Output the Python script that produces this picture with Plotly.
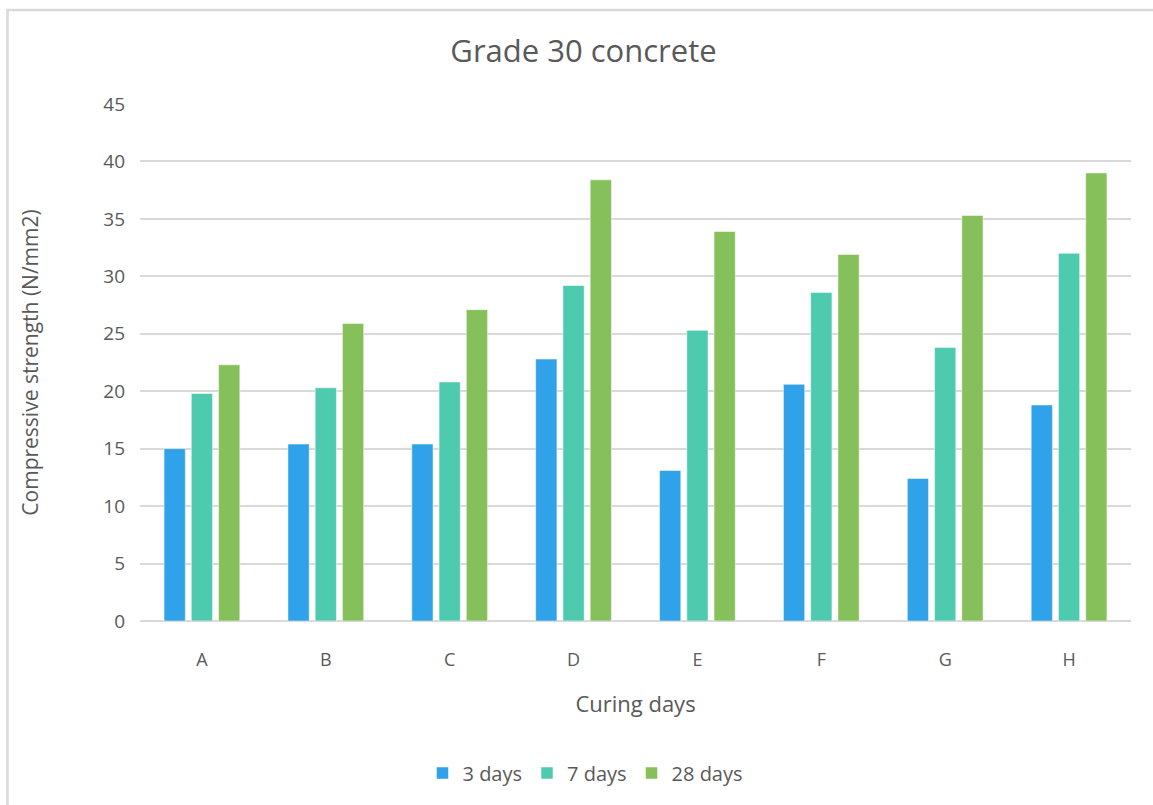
import plotly.graph_objects as go

mixes = ["A", "B", "C", "D", "E", "F", "G", "H"]
day3 = [15.0, 15.4, 15.4, 22.8, 13.1, 20.6, 12.4, 18.8]
day7 = [19.8, 20.3, 20.8, 29.2, 25.3, 28.6, 23.8, 32.0]
day28 = [22.3, 25.9, 27.1, 38.4, 33.9, 31.9, 35.3, 39.0]

series = [
    ("3 days", day3, "#2fa2ea"),
    ("7 days", day7, "#4ecbae"),
    ("28 days", day28, "#86c05a"),
]

FONT = "Open Sans"
TXT = "#595959"

fig = go.Figure()
for name, vals, col in series:
    fig.add_trace(go.Bar(
        x=mixes, y=vals, name=name,
        marker=dict(color=col, line=dict(color="rgba(255,255,255,0.5)", width=1)),
    ))

W, H = 1153, 805
L, R, T, B = 140, 22, 104, 184
pw, ph = W - L - R, H - T - B

def px(x):
    return (x - L) / pw

def py(y):
    return (H - B - y) / ph

fig.update_layout(
    width=W, height=H,
    margin=dict(l=L, r=R, t=T, b=B),
    paper_bgcolor="white", plot_bgcolor="white",
    font=dict(family=FONT, color=TXT, size=18),
    title=dict(text="Grade 30 concrete", x=583.5 / W, xref="container", xanchor="center",
               y=1 - 51 / H, yref="container", yanchor="middle",
               font=dict(size=31, color=TXT, family=FONT)),
    barmode="group", bargap=0.34, bargroupgap=0.22,
    xaxis=dict(
        title=dict(text="Curing days", font=dict(size=22), standoff=26),
        showgrid=False, showline=False, ticks="", tickfont=dict(size=18),
        ticklabelstandoff=26,
    ),
    yaxis=dict(
        title=dict(text="Compressive strength (N/mm2)", font=dict(size=21), standoff=58),
        range=[0, 45], dtick=5, showgrid=True, gridcolor="#d9d9d9", gridwidth=1.5,
        zeroline=True, zerolinecolor="#d9d9d9", zerolinewidth=1.5,
        showline=False, ticks="", tickfont=dict(size=19),
        ticklabelstandoff=14,
    ),
    legend=dict(orientation="h", x=0.5 - 50 / pw, xanchor="center", y=py(773), yanchor="middle",
                font=dict(size=20), itemwidth=30, traceorder="normal"),
    shapes=[dict(type="rect", xref="paper", yref="paper",
                 x0=px(7.5), x1=px(1160), y0=py(815), y1=py(10),
                 line=dict(color="#d9d9d9", width=2.5), fillcolor="rgba(0,0,0,0)",
                 layer="below")],
)

fig.write_html("out.html")
